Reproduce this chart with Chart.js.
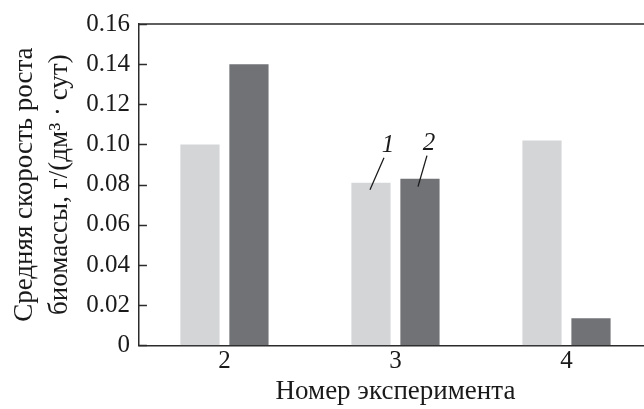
<!DOCTYPE html>
<html>
<head>
<meta charset="utf-8">
<script src="https://cdn.jsdelivr.net/npm/chart.js@4"></script>
<style>
    html, body { margin: 0; padding: 0; background: #fff; overflow: hidden; }
    #wrap { width: 656px; height: 409px; }
</style>
</head>
<body>
<div id="wrap"><canvas id="growthChart" width="656" height="409"></canvas></div>
<script>
// Данные
const experiments = ['2', '3', '4'];
const series1 = [0.100, 0.081, 0.102];   // 1 - светлые столбцы
const series2 = [0.140, 0.083, 0.0135];  // 2 - тёмные столбцы
const seriesNames = ['1', '2'];
const yTickLabels = ['0', '0.02', '0.04', '0.06', '0.08', '0.10', '0.12', '0.14', '0.16'];

const axisColor = '#2b2b2b';
const serif = 'Liberation Serif';

// Рамка сверху + внутренние засечки по оси Y
const framePlugin = {
    id: 'frame',
    afterDraw(chart) {
        const { ctx, chartArea } = chart;
        const y = chart.scales.y;
        ctx.save();
        ctx.strokeStyle = axisColor;
        ctx.lineWidth = 1.5;
        ctx.beginPath();
        ctx.moveTo(chartArea.left, chartArea.top);
        ctx.lineTo(chartArea.right, chartArea.top);
        y.ticks.forEach(t => {
            const py = Math.round(y.getPixelForValue(t.value)) + 0.5;
            ctx.moveTo(chartArea.left, py);
            ctx.lineTo(chartArea.left + 8, py);
        });
        ctx.stroke();
        ctx.restore();
    }
};

// Номера серий с выносками над экспериментом 3
const leaderPlugin = {
    id: 'leaders',
    afterDatasetsDraw(chart) {
        const { ctx } = chart;
        const offsets = [
            { bx: -1, by: 7, tx: 13, ty: -25, lx: 17, ly: -37 },
            { bx: -2, by: 8, tx: 7, ty: -23, lx: 9, ly: -35 }
        ];
        ctx.save();
        ctx.strokeStyle = '#1a1a1a';
        ctx.fillStyle = '#1a1a1a';
        ctx.lineWidth = 1.3;
        ctx.font = 'italic 25px "' + serif + '"';
        ctx.textAlign = 'center';
        ctx.textBaseline = 'middle';
        seriesNames.forEach((name, i) => {
            const bar = chart.getDatasetMeta(i).data[1];
            const o = offsets[i];
            ctx.beginPath();
            ctx.moveTo(bar.x + o.bx, bar.y + o.by);
            ctx.lineTo(bar.x + o.tx, bar.y + o.ty);
            ctx.stroke();
            ctx.fillText(name, bar.x + o.lx, bar.y + o.ly);
        });
        ctx.restore();
    }
};

const ctx = document.getElementById('growthChart').getContext('2d');

new Chart(ctx, {
    type: 'bar',
    data: {
        labels: experiments,
        datasets: [
            {
                label: seriesNames[0],
                data: series1,
                backgroundColor: '#d4d5d7',
                barPercentage: 0.8,
                categoryPercentage: 0.573
            },
            {
                label: seriesNames[1],
                data: series2,
                backgroundColor: '#717276',
                barPercentage: 0.8,
                categoryPercentage: 0.573
            }
        ]
    },
    options: {
        responsive: false,
        animation: false,
        layout: { padding: { top: 18, right: 4, bottom: 2, left: 7 } },
        plugins: {
            legend: { display: false },
            tooltip: { enabled: false }
        },
        scales: {
            y: {
                min: 0,
                max: 0.16,
                ticks: {
                    stepSize: 0.02,
                    color: '#1a1a1a',
                    padding: 9,
                    font: { family: serif, size: 25 },
                    callback: (v, i) => yTickLabels[i]
                },
                grid: { display: false, drawTicks: false },
                border: { display: true, color: axisColor, width: 1.5 },
                title: {
                    display: true,
                    text: ['Средняя скорость роста', 'биомассы, г/(дм³ · сут)'],
                    color: '#1a1a1a',
                    font: { family: serif, size: 27, lineHeight: 1.3 },
                    padding: { top: 0, bottom: 0 }
                }
            },
            x: {
                ticks: {
                    color: '#1a1a1a',
                    padding: 1,
                    font: { family: serif, size: 25 }
                },
                grid: { display: false, drawTicks: false },
                border: { display: true, color: axisColor, width: 1.5 },
                title: {
                    display: true,
                    text: 'Номер эксперимента',
                    color: '#1a1a1a',
                    font: { family: serif, size: 27, lineHeight: 1.1 },
                    padding: { top: 0, bottom: 0 }
                }
            }
        }
    },
    plugins: [framePlugin, leaderPlugin]
});
</script>
</body>
</html>
